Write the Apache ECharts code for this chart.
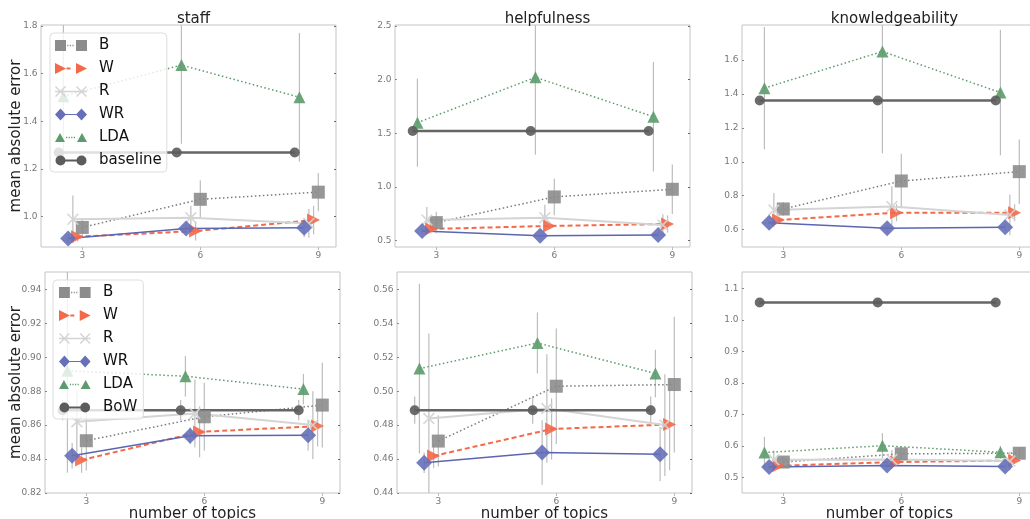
<!DOCTYPE html>
<html><head><meta charset="utf-8">
<script src="https://cdn.jsdelivr.net/npm/echarts@6/dist/echarts.min.js"></script>
<style>html,body{margin:0;padding:0;background:#fff}#c{width:1030px;height:519px}</style>
</head><body><div id="c"></div>
<script>
// ---------------- data ----------------
const topics = [3, 6, 9];
const seriesNames = ['B', 'W', 'R', 'WR', 'LDA', 'baseline'];
const bottomBaselineName = 'BoW';
const panelTitles = ['staff', 'helpfulness', 'knowledgeability'];
const yAxisTitle = 'mean absolute error';
const xAxisTitle = 'number of topics';

// top row: staff
const staff_B = [0.955, 1.073, 1.103];      const staff_B_err = [0.04, 0.08, 0.08];
const staff_W = [0.916, 0.940, 0.986];      const staff_W_err = [0.02, 0.04, 0.06];
const staff_R = [0.989, 0.996, 0.972];      const staff_R_err = [0.10, 0.05, 0.06];
const staff_WR = [0.909, 0.951, 0.954];     const staff_WR_err = [0.015, 0.02, 0.04];
const staff_LDA = [1.505, 1.636, 1.501];    const staff_LDA_err = [0.30, 0.33, 0.27];
const staff_base = [1.269, 1.269, 1.269];   const staff_base_err = [0.005, 0.005, 0.005];
// top row: helpfulness
const help_B = [0.668, 0.907, 0.978];       const help_B_err = [0.10, 0.17, 0.23];
const help_W = [0.609, 0.637, 0.655];       const help_W_err = [0.02, 0.03, 0.08];
const help_R = [0.693, 0.714, 0.646];       const help_R_err = [0.12, 0.12, 0.10];
const help_WR = [0.590, 0.546, 0.552];      const help_WR_err = [0.02, 0.02, 0.03];
const help_LDA = [1.598, 2.020, 1.654];     const help_LDA_err = [0.41, 0.72, 0.51];
const help_base = [1.520, 1.520, 1.520];    const help_base_err = [0.01, 0.01, 0.01];
// top row: knowledgeability
const know_B = [0.722, 0.887, 0.942];       const know_B_err = [0.04, 0.16, 0.19];
const know_W = [0.657, 0.700, 0.700];       const know_W_err = [0.02, 0.05, 0.05];
const know_R = [0.716, 0.736, 0.687];       const know_R_err = [0.10, 0.12, 0.12];
const know_WR = [0.641, 0.608, 0.614];      const know_WR_err = [0.01, 0.02, 0.02];
const know_LDA = [1.434, 1.650, 1.408];     const know_LDA_err = [0.36, 0.60, 0.37];
const know_base = [1.361, 1.361, 1.361];    const know_base_err = [0.005, 0.005, 0.005];
// bottom row: staff (BoW baseline)
const staff2_B = [0.8508, 0.8649, 0.8718];  const staff2_B_err = [0.0175, 0.02, 0.025];
const staff2_W = [0.8394, 0.8560, 0.8594];  const staff2_W_err = [0.0075, 0.015, 0.012];
const staff2_R = [0.8620, 0.8668, 0.8600];  const staff2_R_err = [0.018, 0.02, 0.02];
const staff2_WR = [0.8420, 0.8537, 0.8540]; const staff2_WR_err = [0.0075, 0.005, 0.009];
const staff2_LDA = [0.8920, 0.8888, 0.8812];const staff2_LDA_err = [0.06, 0.012, 0.009];
const staff2_base = [0.8688, 0.8688, 0.8688]; const staff2_base_err = [0.006, 0.006, 0.006];
// bottom row: helpfulness (BoW baseline)
const help2_B = [0.4706, 0.5029, 0.5039];   const help2_B_err = [0.015, 0.034, 0.04];
const help2_W = [0.4618, 0.4777, 0.4804];   const help2_W_err = [0.007, 0.018, 0.027];
const help2_R = [0.4839, 0.4898, 0.4800];   const help2_R_err = [0.05, 0.032, 0.03];
const help2_WR = [0.4578, 0.4639, 0.4629];  const help2_WR_err = [0.006, 0.019, 0.016];
const help2_LDA = [0.5133, 0.5284, 0.5104]; const help2_LDA_err = [0.05, 0.018, 0.014];
const help2_base = [0.4888, 0.4888, 0.4888];const help2_base_err = [0.008, 0.008, 0.008];
// bottom row: knowledgeability (BoW baseline)
const know2_B = [0.549, 0.575, 0.577];      const know2_B_err = [0.015, 0.025, 0.02];
const know2_W = [0.537, 0.549, 0.554];      const know2_W_err = [0.01, 0.01, 0.01];
const know2_R = [0.556, 0.557, 0.552];      const know2_R_err = [0.03, 0.03, 0.03];
const know2_WR = [0.533, 0.538, 0.535];     const know2_WR_err = [0.005, 0.005, 0.005];
const know2_LDA = [0.579, 0.601, 0.580];    const know2_LDA_err = [0.05, 0.04, 0.02];
const know2_base = [1.056, 1.056, 1.056];   const know2_base_err = [0.008, 0.008, 0.008];

// y tick labels per panel
const staff_yTicks = [1.0, 1.2, 1.4, 1.6, 1.8];
const help_yTicks = [0.5, 1.0, 1.5, 2.0, 2.5];
const know_yTicks = [0.6, 0.8, 1.0, 1.2, 1.4, 1.6];
const staff2_yTicks = [0.82, 0.84, 0.86, 0.88, 0.90, 0.92, 0.94];
const help2_yTicks = [0.44, 0.46, 0.48, 0.50, 0.52, 0.54, 0.56];
const know2_yTicks = [0.5, 0.6, 0.7, 0.8, 0.9, 1.0, 1.1];
const xTicks = [3, 6, 9];

// ---------------- layout / style ----------------
const panels = [
  { means: [staff_B, staff_W, staff_R, staff_WR, staff_LDA, staff_base],
    errs: [staff_B_err, staff_W_err, staff_R_err, staff_WR_err, staff_LDA_err, staff_base_err],
    ticks: staff_yTicks, dec: 1, yr: [0.873, 1.804], g: [41, 25, 295, 222], title: panelTitles[0], yName: true, xName: false, base: 'baseline', nGap: 17 },
  { means: [help_B, help_W, help_R, help_WR, help_LDA, help_base],
    errs: [help_B_err, help_W_err, help_R_err, help_WR_err, help_LDA_err, help_base_err],
    ticks: help_yTicks, dec: 1, yr: [0.441, 2.507], g: [395, 25, 295, 222], title: panelTitles[1], yName: false, xName: false, base: 'baseline', nGap: 17 },
  { means: [know_B, know_W, know_R, know_WR, know_LDA, know_base],
    errs: [know_B_err, know_W_err, know_R_err, know_WR_err, know_LDA_err, know_base_err],
    ticks: know_yTicks, dec: 1, yr: [0.498, 1.806], g: [742, 25, 295, 222], title: panelTitles[2], yName: false, xName: false, base: 'baseline', nGap: 17 },
  { means: [staff2_B, staff2_W, staff2_R, staff2_WR, staff2_LDA, staff2_base],
    errs: [staff2_B_err, staff2_W_err, staff2_R_err, staff2_WR_err, staff2_LDA_err, staff2_base_err],
    ticks: staff2_yTicks, dec: 2, yr: [0.82, 0.9502], g: [45, 272, 295, 221], title: null, yName: true, xName: true, base: bottomBaselineName, nGap: 21 },
  { means: [help2_B, help2_W, help2_R, help2_WR, help2_LDA, help2_base],
    errs: [help2_B_err, help2_W_err, help2_R_err, help2_WR_err, help2_LDA_err, help2_base_err],
    ticks: help2_yTicks, dec: 2, yr: [0.44, 0.5702], g: [397, 272, 295, 221], title: null, yName: false, xName: true, base: bottomBaselineName, nGap: 21 },
  { means: [know2_B, know2_W, know2_R, know2_WR, know2_LDA, know2_base],
    errs: [know2_B_err, know2_W_err, know2_R_err, know2_WR_err, know2_LDA_err, know2_base_err],
    ticks: know2_yTicks, dec: 1, yr: [0.4506, 1.1527], g: [742, 272, 295, 221], title: null, yName: false, xName: true, base: bottomBaselineName, nGap: 21 }
];
const X_MIN = 1.95, X_MAX = 9.45;
const dodge = [0, -0.12, -0.24, -0.36, -0.48, -0.6];
const FONT = 'DejaVu Sans';
const X_PATH = 'path://M0 1 L1 0 L5 4 L9 0 L10 1 L6 5 L10 9 L9 10 L5 6 L1 10 L0 9 L4 5 Z';
const styles = [
  { color: '#8c8c8c', line: '#7a7a7a', lw: 1.5, type: [1.5, 2.5], symbol: 'rect', size: 13, rot: 0 },
  { color: '#f4694a', line: '#f4694a', lw: 2, type: [5, 3], symbol: 'triangle', size: 13, rot: -90 },
  { color: '#d4d4d4', line: '#d4d4d4', lw: 2, type: 'solid', symbol: X_PATH, size: 12, rot: 0 },
  { color: '#6670b8', line: '#5b66b2', lw: 1.5, type: 'solid', symbol: 'diamond', size: 16, rot: 0 },
  { color: '#5c9b6b', line: '#5c9b6b', lw: 1.5, type: [1.5, 2.5], symbol: 'triangle', size: 12, rot: 0 },
  { color: '#5c5c5c', line: '#666666', lw: 2.5, type: 'solid', symbol: 'circle', size: 10, rot: 0 }
];

// legend icon paths (box W x 12, content 0..32)
function anchors(w, h) { return `M0 0 L0.01 0 L0 0.01 Z M${w} ${h} L${w - 0.01} ${h} L${w} ${h - 0.01} Z `; }
function rect(x0, y0, x1, y1) { return `M${x0} ${y0} L${x1} ${y0} L${x1} ${y1} L${x0} ${y1} Z `; }
function segs(x0, x1, y, th, len, gap) { let s = ''; for (let x = x0; x + len <= x1 + 0.01; x += len + gap) s += rect(x, y - th / 2, x + len, y + th / 2); return s; }
function xmark(a) { return `M${a} 1.5 L${a + 1} 0.5 L${a + 5.5} 5 L${a + 10} 0.5 L${a + 11} 1.5 L${a + 6.5} 6 L${a + 11} 10.5 L${a + 10} 11.5 L${a + 5.5} 7 L${a + 1} 11.5 L${a} 10.5 L${a + 4.5} 6 Z `; }
function iconPaths(W) {
  const A = anchors(W, 12);
  return [
    A + rect(0, 0.5, 11, 11.5) + rect(21, 0.5, 32, 11.5) + segs(12.2, 20, 6, 1.4, 1.2, 1.4),
    A + 'M0 0.5 L11 6 L0 11.5 Z M21 0.5 L32 6 L21 11.5 Z ' + segs(11.5, 21, 6, 1.8, 4, 1.8),
    A + xmark(0) + xmark(21) + rect(0, 5.3, 32, 6.7),
    A + 'M5.5 0 L11 6 L5.5 12 L0 6 Z M26.5 0 L32 6 L26.5 12 L21 6 Z ' + rect(10, 5.4, 22, 6.6),
    A + 'M5 1.5 L10 10.5 L0 10.5 Z M27 1.5 L32 10.5 L22 10.5 Z ' + segs(11, 21.5, 6, 1.4, 1.2, 1.4),
    A + 'M0.5 6 A5 5 0 1 1 10.5 6 A5 5 0 1 1 0.5 6 Z M21.5 6 A5 5 0 1 1 31.5 6 A5 5 0 1 1 21.5 6 Z ' + rect(10, 5, 22, 7)
  ];
}

const grids = [], xAxes = [], yAxes = [], series = [], titles = [];
panels.forEach((p, i) => {
  grids.push({ left: p.g[0], top: p.g[1], width: p.g[2], height: p.g[3], show: true, borderColor: '#c4c4c4', borderWidth: 1,
    backgroundColor: 'transparent', containLabel: false, outerBoundsMode: 'none' });
  xAxes.push({
    type: 'value', gridIndex: i, min: X_MIN, max: X_MAX,
    axisLine: { show: false }, splitLine: { show: false },
    axisTick: { show: true, length: 3, customValues: xTicks, lineStyle: { color: '#bbbbbb' } },
    axisLabel: { customValues: xTicks, color: '#777777', fontSize: 9, fontFamily: FONT, margin: 4 },
    name: p.xName ? xAxisTitle : '', nameLocation: 'middle', nameGap: 14, nameMoveOverlap: false,
    nameTextStyle: { fontSize: 15, color: '#222222', fontFamily: FONT }
  });
  yAxes.push({
    type: 'value', gridIndex: i, min: p.yr[0], max: p.yr[1],
    axisLine: { show: false }, splitLine: { show: false },
    axisTick: { show: true, inside: true, length: 2, customValues: p.ticks, lineStyle: { color: '#888888' } },
    axisLabel: { customValues: p.ticks, color: '#777777', fontSize: 9, fontFamily: FONT, margin: 3.5,
      formatter: (v) => Number(v).toFixed(p.dec) },
    name: p.yName ? yAxisTitle : '', nameLocation: 'middle', nameRotate: 90, nameGap: p.nGap, nameMoveOverlap: false,
    nameTextStyle: { fontSize: 15, color: '#222222', fontFamily: FONT }
  });
  if (p.title) titles.push({ text: p.title, left: p.g[0] + p.g[2] / 2, top: 7, textAlign: 'center',
    textStyle: { fontSize: 15, fontWeight: 'normal', color: '#222222', fontFamily: FONT } });
});
// right-side mirrored ticks
panels.forEach((p, i) => {
  yAxes.push({
    type: 'value', gridIndex: i, min: p.yr[0], max: p.yr[1], position: 'right',
    axisLine: { show: false }, splitLine: { show: false },
    axisTick: { show: true, inside: true, length: 2, customValues: p.ticks, lineStyle: { color: '#666666' } },
    axisLabel: { show: false }
  });
});

panels.forEach((p, i) => {
  seriesNames.forEach((nm, s) => {
    const name = s === 5 ? p.base : nm;
    const st = styles[s];
    const pts = topics.map((t, k) => [t + dodge[s], p.means[s][k]]);
    const bars = topics.map((t, k) => [t + dodge[s], p.means[s][k] - p.errs[s][k], p.means[s][k] + p.errs[s][k]]);
    series.push({
      type: 'custom', name: name + ' err', xAxisIndex: i, yAxisIndex: i, clip: true, silent: true,
      encode: { x: 0, y: [1, 2] }, data: bars,
      renderItem: (params, api) => {
        const a = api.coord([api.value(0), api.value(1)]);
        const b = api.coord([api.value(0), api.value(2)]);
        return { type: 'line', shape: { x1: a[0], y1: a[1], x2: b[0], y2: b[1] }, style: { stroke: '#bdbdbd', lineWidth: 1.2 } };
      }
    });
    series.push({
      type: 'line', name: name, xAxisIndex: i, yAxisIndex: i, data: pts,
      symbol: st.symbol, symbolSize: st.size, symbolRotate: st.rot,
      itemStyle: { color: st.color, opacity: 0.9, borderWidth: 0 },
      lineStyle: { color: st.line, width: st.lw, type: st.type },
      emphasis: { disabled: true }
    });
  });
});

function legendData(baseName, W) {
  const paths = iconPaths(W);
  return seriesNames.map((nm, s) => ({
    name: s === 5 ? baseName : nm,
    icon: 'path://' + paths[s],
    itemStyle: { color: styles[s].color, borderWidth: 0, opacity: 1 }
  }));
}
const legendCommon = {
  orient: 'vertical', itemWidth: 39, itemHeight: 12, itemGap: 8,
  backgroundColor: 'rgba(255,255,255,0.8)', borderColor: '#dddddd', borderWidth: 1, borderRadius: 4,
  textStyle: { fontSize: 15, color: '#111111', fontFamily: FONT }, selectedMode: false
};
const legends = [
  Object.assign({}, legendCommon, { left: 50, top: 33, padding: [5, 5, 4, 5], data: legendData('baseline', 39) }),
  Object.assign({}, legendCommon, { left: 53, top: 280, padding: [5, 6, 4, 6], data: legendData(bottomBaselineName, 39.5) })
];

const chart = echarts.init(document.getElementById('c'), null, { renderer: 'canvas' });
chart.setOption({
  animation: false,
  textStyle: { fontFamily: FONT },
  title: titles, grid: grids, xAxis: xAxes, yAxis: yAxes, legend: legends, series: series
});
</script></body></html>
